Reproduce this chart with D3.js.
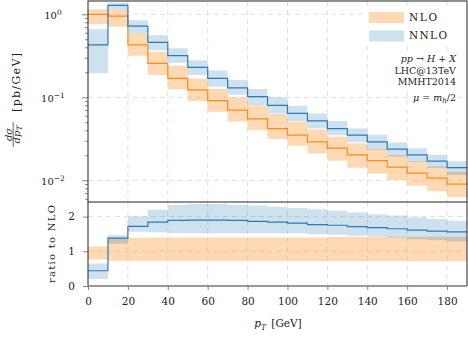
<!DOCTYPE html>
<html>
<head>
<meta charset="utf-8">
<script src="https://cdn.jsdelivr.net/npm/d3@7/dist/d3.min.js"></script>
<style>
  body { margin: 0; background: #fff; }
  text { font-family: "DejaVu Serif", serif; fill: #222; }
</style>
</head>
<body>
<div id="chart"></div>
<script>
// bin edges in pT [GeV]
const binEdges = [0,10,20,30,40,50,60,70,80,90,100,110,120,130,140,150,160,170,180,190];

// dsigma/dpT [pb/GeV], one value per bin
const nloCentral = [1.0,0.95,0.427,0.257,0.169,0.123,0.091,0.070,0.055,0.042,0.035,0.029,0.0244,0.0202,0.0173,0.0144,0.0122,0.0106,0.0090];
const nloUp      = [1.15,1.15,0.59,0.355,0.24,0.169,0.126,0.10,0.08,0.063,0.051,0.041,0.0336,0.028,0.0238,0.0202,0.0170,0.0148,0.0127];
const nloDown    = [0.76,0.71,0.317,0.186,0.125,0.09,0.067,0.051,0.040,0.0315,0.026,0.021,0.0172,0.0142,0.0121,0.0101,0.0086,0.0074,0.0063];
const nnloCentral = [0.427,1.28,0.72,0.46,0.317,0.23,0.169,0.13,0.102,0.08,0.064,0.052,0.042,0.035,0.029,0.0237,0.0202,0.0170,0.0142];
const nnloUp      = [0.66,1.38,0.85,0.56,0.39,0.28,0.21,0.162,0.126,0.10,0.079,0.064,0.052,0.042,0.0355,0.0286,0.0244,0.0202,0.017];
const nnloDown    = [0.195,1.15,0.59,0.37,0.26,0.186,0.134,0.107,0.081,0.064,0.052,0.042,0.035,0.029,0.0233,0.0193,0.0166,0.0141,0.0116];

// ratio to NLO central
const ratioNnlo     = [0.44,1.38,1.72,1.84,1.89,1.90,1.90,1.89,1.86,1.84,1.81,1.77,1.75,1.71,1.68,1.65,1.61,1.58,1.56];
const ratioNnloUp   = [0.65,1.46,2.0,2.2,2.33,2.36,2.36,2.34,2.32,2.28,2.25,2.21,2.17,2.12,2.07,2.03,1.98,1.93,1.88];
const ratioNnloDown = [0.2,1.22,1.56,1.55,1.53,1.52,1.52,1.52,1.52,1.52,1.52,1.50,1.48,1.45,1.42,1.39,1.35,1.32,1.29];
const ratioNloUp    = [1.14,1.38,1.39,1.40,1.40,1.40,1.40,1.40,1.40,1.40,1.40,1.40,1.41,1.41,1.41,1.42,1.42,1.42,1.42];
const ratioNloDown  = [0.76,0.73,0.73,0.73,0.73,0.73,0.73,0.73,0.73,0.73,0.72,0.72,0.72,0.72,0.72,0.72,0.71,0.71,0.71];

const xTicks = [0,20,40,60,80,100,120,140,160,180];
const yTopTicks = [1, 0.1, 0.01];
const yTopExp = ["0", "\u22121", "\u22122"];
const yRatioTicks = [0, 1, 2];

const W = 468, H = 339;
const left = 88, right = 467, topY = 1, midY = 202, botY = 286;

const orange = "#ff8a1c", blue = "#2b7bba";

const svg = d3.select("#chart").append("svg")
    .attr("width", W).attr("height", H);

const x = d3.scaleLinear().domain([0, 190]).range([left, right]);
const yTop = d3.scaleLog().domain([0.00548, 1.446]).range([midY, topY]);
const yRat = d3.scaleLinear().domain([0, 2.42]).range([botY, midY]);

// turn per-bin values into step points
function steps(vals) {
  const pts = [];
  vals.forEach((v, i) => { pts.push([binEdges[i], v]); pts.push([binEdges[i + 1], v]); });
  return pts;
}
function bandSteps(lo, hi) {
  const pts = [];
  lo.forEach((v, i) => { pts.push([binEdges[i], v, hi[i]]); pts.push([binEdges[i + 1], v, hi[i]]); });
  return pts;
}

const defs = svg.append("defs");
defs.append("clipPath").attr("id", "clipTop").append("rect")
    .attr("x", left).attr("y", topY).attr("width", right - left).attr("height", midY - topY);
defs.append("clipPath").attr("id", "clipRat").append("rect")
    .attr("x", left).attr("y", midY).attr("width", right - left).attr("height", botY - midY);

// grid
const grid = svg.append("g").attr("stroke", "#d8d8d8").attr("stroke-width", 0.8).attr("stroke-dasharray", "5,4");
grid.selectAll(".vt").data(xTicks.slice(1)).join("line")
    .attr("x1", d => x(d)).attr("x2", d => x(d)).attr("y1", topY).attr("y2", midY);
grid.selectAll(".vb").data(xTicks.slice(1)).join("line")
    .attr("x1", d => x(d)).attr("x2", d => x(d)).attr("y1", midY).attr("y2", botY);
grid.selectAll(".ht").data(yTopTicks).join("line")
    .attr("x1", left).attr("x2", right).attr("y1", d => yTop(d)).attr("y2", d => yTop(d));
grid.selectAll(".hb").data(yRatioTicks.slice(1)).join("line")
    .attr("x1", left).attr("x2", right).attr("y1", d => yRat(d)).attr("y2", d => yRat(d));

// top panel
const areaTop = d3.area().x(d => x(d[0])).y0(d => yTop(d[1])).y1(d => yTop(d[2]));
const lineTop = d3.line().x(d => x(d[0])).y(d => yTop(d[1]));
const gTop = svg.append("g").attr("clip-path", "url(#clipTop)");
gTop.append("path").attr("d", areaTop(bandSteps(nloDown, nloUp)))
    .attr("fill", "#ff9f40").attr("fill-opacity", 0.4);
gTop.append("path").attr("d", areaTop(bandSteps(nnloDown, nnloUp)))
    .attr("fill", "#1f77b4").attr("fill-opacity", 0.22);
gTop.append("path").attr("d", lineTop(steps(nloCentral)))
    .attr("fill", "none").attr("stroke", orange).attr("stroke-width", 1.2);
gTop.append("path").attr("d", lineTop(steps(nnloCentral)))
    .attr("fill", "none").attr("stroke", blue).attr("stroke-width", 1.2);

// ratio panel
const areaRat = d3.area().x(d => x(d[0])).y0(d => yRat(d[1])).y1(d => yRat(d[2]));
const lineRat = d3.line().x(d => x(d[0])).y(d => yRat(d[1]));
const gRat = svg.append("g").attr("clip-path", "url(#clipRat)");
gRat.append("path").attr("d", areaRat(bandSteps(ratioNloDown, ratioNloUp)))
    .attr("fill", "#ff9f40").attr("fill-opacity", 0.4);
gRat.append("path").attr("d", areaRat(bandSteps(ratioNnloDown, ratioNnloUp)))
    .attr("fill", "#1f77b4").attr("fill-opacity", 0.22);
gRat.append("path").attr("d", lineRat(steps(ratioNnlo)))
    .attr("fill", "none").attr("stroke", blue).attr("stroke-width", 1.2);

// axes
const minorTicks = [];
[0.001, 0.01, 0.1, 1].forEach(dec => d3.range(2, 10).forEach(k => {
  const v = dec * k;
  if (v > 0.00548 && v < 1.446) minorTicks.push(v);
}));
const axTopMinor = svg.append("g").attr("transform", `translate(${left},0)`)
    .call(d3.axisLeft(yTop).tickValues(minorTicks).tickSize(3).tickFormat(""));
const axTopMajor = svg.append("g").attr("transform", `translate(${left},0)`)
    .call(d3.axisLeft(yTop).tickValues(yTopTicks).tickSize(6).tickFormat(""));
const axRat = svg.append("g").attr("transform", `translate(${left},0)`)
    .call(d3.axisLeft(yRat).tickValues(yRatioTicks).tickSize(5).tickPadding(8).tickFormat(d3.format("d")));
const axX = svg.append("g").attr("transform", `translate(0,${botY})`)
    .call(d3.axisBottom(x).tickValues(xTicks).tickSize(4).tickPadding(8));
[axTopMinor, axTopMajor, axRat, axX].forEach(a => {
  a.select(".domain").remove();
  a.selectAll(".tick line").attr("stroke", "#888");
  a.selectAll(".tick text").attr("font-family", "DejaVu Serif").attr("font-size", 10.5).attr("fill", "#222");
});

// 10^n labels
const yl = svg.append("g");
yTopTicks.forEach((v, i) => {
  const t = yl.append("text").attr("x", 53).attr("y", yTop(v) + 4.6)
      .attr("text-anchor", "middle").attr("font-size", 10);
  t.append("tspan").text("10");
  t.append("tspan").attr("dy", -4.2).attr("font-size", 7.5).text(yTopExp[i]);
});

// frame
const frame = svg.append("g").attr("fill", "none");
frame.append("rect").attr("x", left).attr("y", topY).attr("width", right - left).attr("height", midY - topY)
    .attr("stroke", "#222").attr("stroke-width", 1);
frame.append("line").attr("x1", left).attr("x2", left).attr("y1", midY).attr("y2", botY).attr("stroke", "#222");
frame.append("line").attr("x1", right).attr("x2", right).attr("y1", midY).attr("y2", botY).attr("stroke", "#222");
frame.append("line").attr("x1", left).attr("x2", right).attr("y1", botY).attr("y2", botY)
    .attr("stroke", "#777").attr("stroke-width", 1.6);

// legend
const leg = svg.append("g");
leg.append("rect").attr("x", 364).attr("y", 6).attr("width", 101).attr("height", 40).attr("fill", "#fff");
leg.append("rect").attr("x", 369).attr("y", 12).attr("width", 35).attr("height", 11)
    .attr("fill", "#ff9f40").attr("fill-opacity", 0.4);
leg.append("rect").attr("x", 369).attr("y", 30.5).attr("width", 35).attr("height", 11)
    .attr("fill", "#1f77b4").attr("fill-opacity", 0.22);
leg.append("text").attr("x", 409).attr("y", 20.6).attr("font-size", 10.5)
    .attr("textLength", 28).attr("lengthAdjust", "spacing").text("NLO");
leg.append("text").attr("x", 409).attr("y", 39).attr("font-size", 10.5)
    .attr("textLength", 38).attr("lengthAdjust", "spacing").text("NNLO");

// process info
const info = svg.append("g").attr("font-size", 9.5);
const infoLines = [];
const t1 = info.append("text").attr("x", 456).attr("y", 61.5).attr("text-anchor", "end");
t1.append("tspan").attr("font-style", "italic").text("pp");
t1.append("tspan").text(" \u2192 ");
t1.append("tspan").attr("font-style", "italic").text("H");
t1.append("tspan").text(" + ");
t1.append("tspan").attr("font-style", "italic").text("X");
infoLines.push(t1);
infoLines.push(info.append("text").attr("x", 456).attr("y", 73.8).attr("text-anchor", "end").text("LHC@13TeV"));
infoLines.push(info.append("text").attr("x", 456).attr("y", 85.3).attr("text-anchor", "end").text("MMHT2014"));
const t4 = info.append("text").attr("x", 456).attr("y", 100.5).attr("text-anchor", "end");
t4.append("tspan").attr("font-style", "italic").text("\u03bc");
t4.append("tspan").text(" = ");
t4.append("tspan").attr("font-style", "italic").text("m");
t4.append("tspan").attr("font-style", "italic").attr("font-size", 7).attr("dy", 2).text("h");
t4.append("tspan").attr("dy", -2).text("/2");
infoLines.push(t4);
infoLines.forEach(t => {
  const b = t.node().getBBox();
  info.insert("rect", "text").attr("x", b.x - 1).attr("y", b.y).attr("width", b.width + 2)
      .attr("height", b.height).attr("fill", "#fff");
});

// x label
const xl = svg.append("text").attr("x", 278).attr("y", 327).attr("text-anchor", "middle").attr("font-size", 10.5);
xl.append("tspan").attr("font-style", "italic").text("p");
xl.append("tspan").attr("font-style", "italic").attr("font-size", 7.5).attr("dy", 2.5).text("T");
xl.append("tspan").attr("dy", -2.5).text("\u2002[GeV]");

// y label top: dsigma/dpT [pb/GeV]
const ylt = svg.append("g").attr("transform", "translate(0,101) rotate(-90)");
ylt.append("text").attr("x", -33.5).attr("y", 11.5).attr("text-anchor", "middle")
    .attr("font-size", 10).attr("font-style", "italic").text("d\u03c3");
ylt.append("line").attr("x1", -46).attr("x2", -21).attr("y1", 13.2).attr("y2", 13.2)
    .attr("stroke", "#222").attr("stroke-width", 0.7);
const den = ylt.append("text").attr("x", -33.5).attr("y", 20.3).attr("text-anchor", "middle")
    .attr("font-size", 10).attr("font-style", "italic");
den.append("tspan").text("dp");
den.append("tspan").attr("font-size", 7.5).attr("dy", 2).text("T");
ylt.append("text").attr("x", -11).attr("y", 19.5).attr("font-size", 11)
    .attr("textLength", 59).attr("lengthAdjust", "spacing").text("[pb/GeV]");

// y label ratio
svg.append("text").attr("transform", "translate(55,244) rotate(-90)")
    .attr("text-anchor", "middle").attr("font-size", 10)
    .attr("textLength", 78).attr("lengthAdjust", "spacing").text("ratio to NLO");
</script>
</body>
</html>
